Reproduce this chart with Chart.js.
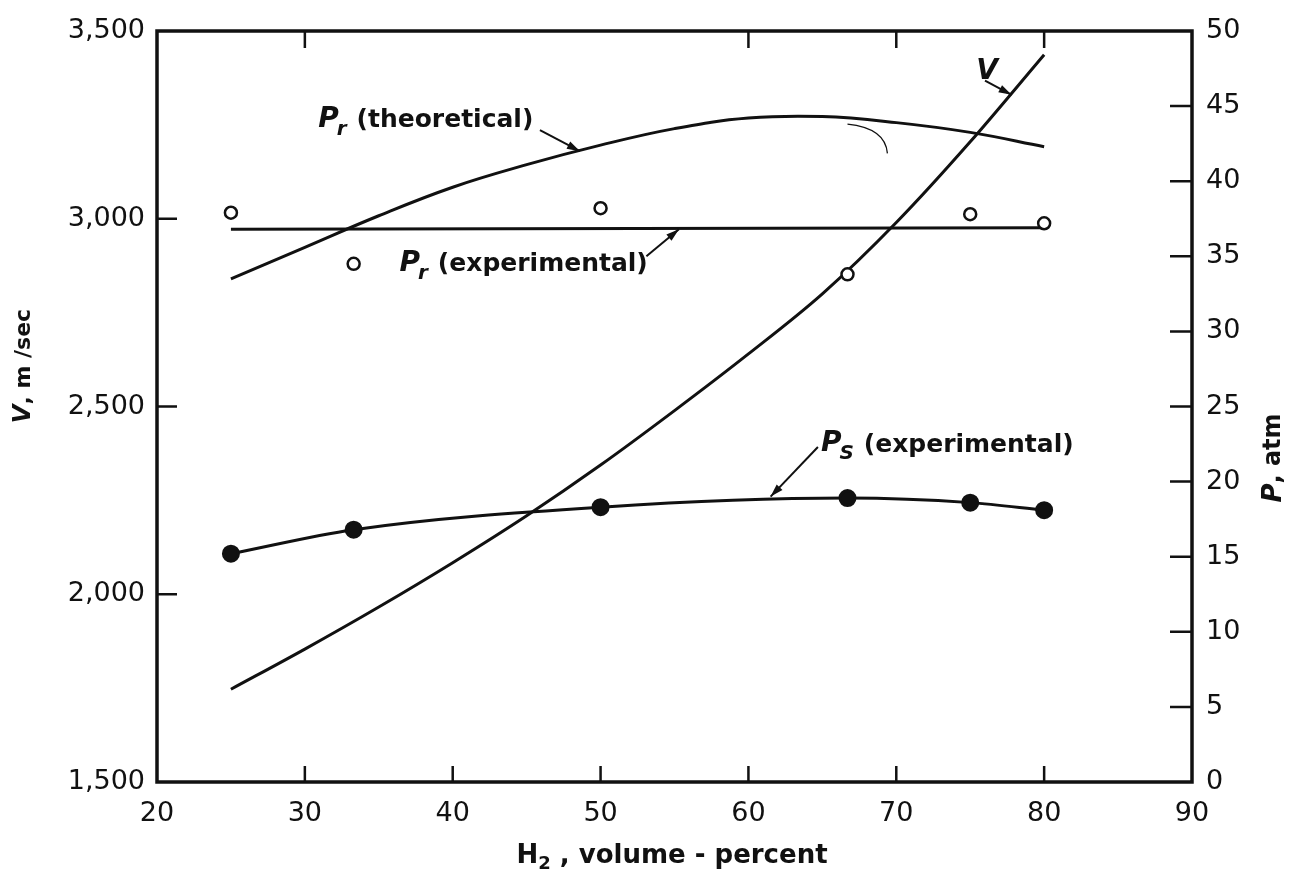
<!DOCTYPE html>
<html>
<head>
<meta charset="utf-8">
<script src="https://cdn.jsdelivr.net/npm/chart.js@4.4.1/dist/chart.umd.min.js"></script>
<style>
  html, body { margin: 0; padding: 0; background: #fff; }
  #wrap { width: 1299px; height: 875px; }
</style>
</head>
<body>
<div id="wrap"><canvas id="chart" width="1299" height="875"></canvas></div>
<script>
  // H2 volume-percent for the smooth curves
  const h2Curve = [25, 30, 35, 40, 45, 50, 55, 60, 65, 70, 75, 80];
  // V, m/sec (left axis)
  const velocity = [1747, 1854, 1966, 2084, 2209, 2344, 2489, 2640, 2800, 2990, 3205, 3437];
  // Pr theoretical, atm (right axis)
  const prTheory = [33.5, 35.6, 37.7, 39.6, 41.1, 42.4, 43.5, 44.2, 44.3, 43.9, 43.25, 42.3];

  // experimental points
  const h2Exp = [25, 33.3, 50, 66.7, 75, 80];
  const prExp = [37.9, 34.5, 38.2, 33.8, 37.8, 37.2];
  const psExp = [15.2, 16.8, 18.3, 18.9, 18.6, 18.1];

  // straight line drawn through the Pr experimental points
  const prFitX = [25, 80];
  const prFit = [36.8, 36.9];

  // tick marks on the frame
  const leftTicks = [2000, 2500, 3000];
  const rightTicks = [5, 10, 15, 20, 25, 30, 35, 40, 45];
  const bottomTicks = [30, 40, 50, 60, 70, 80];
  const topTicks = [30, 60, 70, 80];

  const INK = '#111';
  const tickFont = { family: 'DejaVu Sans', size: 27 };

  const pts = (xs, ys) => xs.map((x, i) => ({ x: x, y: ys[i] }));

  // labels with arrows, in data units (axis: 'y' = V, 'y2' = P)
  const notes = [
    { axis: 'y2', at: [30.9, 44.1], sub: 'r', text: '(theoretical)', from: [45.9, 43.4], to: [48.6, 42.0] },
    { axis: 'y2', at: [36.4, 34.5], sub: 'r', text: '(experimental)', from: [53.1, 35.0], to: [55.3, 36.8] },
    { axis: 'y2', at: [64.9, 22.5], sub: 'S', text: '(experimental)', from: [64.7, 22.3], to: [61.5, 19.0] },
    { axis: 'y', at: [75.4, 3392], sub: '', text: '', from: [76.0, 3368], to: [77.8, 3330] }
  ];

  function arrow(ctx, x1, y1, x2, y2) {
    ctx.beginPath();
    ctx.moveTo(x1, y1);
    ctx.lineTo(x2, y2);
    ctx.lineWidth = 2;
    ctx.stroke();
    const a = Math.atan2(y2 - y1, x2 - x1);
    ctx.beginPath();
    ctx.moveTo(x2, y2);
    ctx.lineTo(x2 - 13 * Math.cos(a) + 4 * Math.sin(a), y2 - 13 * Math.sin(a) - 4 * Math.cos(a));
    ctx.lineTo(x2 - 13 * Math.cos(a) - 4 * Math.sin(a), y2 - 13 * Math.sin(a) + 4 * Math.cos(a));
    ctx.closePath();
    ctx.fill();
  }

  const paper = {
    id: 'paper',
    afterDatasetsDraw(chart) {
      const { ctx, chartArea: a, scales } = chart;
      const sx = scales.x, sy = scales.y, sp = scales.y2;
      ctx.save();
      ctx.strokeStyle = INK;
      ctx.fillStyle = INK;

      // frame
      ctx.lineWidth = 3.5;
      ctx.strokeRect(a.left, a.top, a.right - a.left, a.bottom - a.top);

      // inward ticks
      ctx.lineWidth = 2.5;
      ctx.beginPath();
      leftTicks.forEach(v => { const y = sy.getPixelForValue(v); ctx.moveTo(a.left, y); ctx.lineTo(a.left + 20, y); });
      rightTicks.forEach(v => { const y = sp.getPixelForValue(v); ctx.moveTo(a.right, y); ctx.lineTo(a.right - 22, y); });
      bottomTicks.forEach(v => { const x = sx.getPixelForValue(v); ctx.moveTo(x, a.bottom); ctx.lineTo(x, a.bottom - 16); });
      topTicks.forEach(v => { const x = sx.getPixelForValue(v); ctx.moveTo(x, a.top); ctx.lineTo(x, a.top + 17); });
      ctx.stroke();

      // small stray pen stroke near the Pr theoretical peak
      ctx.lineWidth = 1.3;
      ctx.beginPath();
      const s0x = sx.getPixelForValue(66.7), s0y = sp.getPixelForValue(43.8);
      const s1x = sx.getPixelForValue(69.4), s1y = sp.getPixelForValue(41.85);
      ctx.moveTo(s0x, s0y);
      ctx.quadraticCurveTo(s1x - 2, s0y + 4, s1x, s1y);
      ctx.stroke();

      // curve labels
      ctx.textBaseline = 'middle';
      ctx.textAlign = 'left';
      notes.forEach(n => {
        const sc = n.axis === 'y' ? sy : sp;
        let x = sx.getPixelForValue(n.at[0]);
        const y = sc.getPixelForValue(n.at[1]);
        ctx.font = 'italic bold 28px "DejaVu Sans"';
        const head = n.axis === 'y' ? 'V' : 'P';
        ctx.fillText(head, x, y);
        x += ctx.measureText(head).width;
        if (n.sub) {
          ctx.font = 'italic bold 20px "DejaVu Sans"';
          ctx.fillText(n.sub, x - 2, y + 10);
          x += ctx.measureText(n.sub).width + 8;
        }
        if (n.text) {
          ctx.font = 'bold 25px "DejaVu Sans"';
          ctx.fillText(n.text, x, y + 1);
        }
        arrow(ctx, sx.getPixelForValue(n.from[0]), sc.getPixelForValue(n.from[1]),
          sx.getPixelForValue(n.to[0]), sc.getPixelForValue(n.to[1]));
      });

      // axis titles
      ctx.save();
      ctx.translate(24, 366);
      ctx.rotate(-Math.PI / 2);
      ctx.textAlign = 'left';
      ctx.font = 'italic bold 24px "DejaVu Sans"';
      const vw = ctx.measureText('V').width;
      ctx.font = 'bold 22px "DejaVu Sans"';
      const restL = ', m /sec';
      const lw = ctx.measureText(restL).width + vw;
      ctx.font = 'italic bold 24px "DejaVu Sans"';
      ctx.fillText('V', -lw / 2, 0);
      ctx.font = 'bold 22px "DejaVu Sans"';
      ctx.fillText(restL, -lw / 2 + vw, 0);
      ctx.restore();

      ctx.save();
      ctx.translate(1274, 458);
      ctx.rotate(-Math.PI / 2);
      ctx.textAlign = 'left';
      ctx.font = 'italic bold 26px "DejaVu Sans"';
      const pw = ctx.measureText('P').width;
      ctx.font = 'bold 24px "DejaVu Sans"';
      const restR = ', atm';
      const rw = ctx.measureText(restR).width + pw;
      ctx.font = 'italic bold 26px "DejaVu Sans"';
      ctx.fillText('P', -rw / 2, 0);
      ctx.font = 'bold 24px "DejaVu Sans"';
      ctx.fillText(restR, -rw / 2 + pw, 0);
      ctx.restore();

      // x title with subscript
      ctx.textAlign = 'left';
      ctx.font = 'bold 26px "DejaVu Sans"';
      const hW = ctx.measureText('H').width;
      ctx.font = 'bold 18px "DejaVu Sans"';
      const twoW = ctx.measureText('2').width;
      ctx.font = 'bold 26px "DejaVu Sans"';
      const tail = ' , volume - percent';
      const total = hW + twoW + ctx.measureText(tail).width;
      let tx = 672 - total / 2;
      const ty = 856;
      ctx.fillText('H', tx, ty);
      tx += hW;
      ctx.font = 'bold 18px "DejaVu Sans"';
      ctx.fillText('2', tx, ty + 8);
      tx += twoW;
      ctx.font = 'bold 26px "DejaVu Sans"';
      ctx.fillText(tail, tx, ty);

      ctx.restore();
    }
  };

  const ctx = document.getElementById('chart').getContext('2d');
  new Chart(ctx, {
    type: 'line',
    data: {
      datasets: [
        {
          label: 'Pr (experimental) points',
          data: pts(h2Exp, prExp),
          yAxisID: 'y2',
          showLine: false,
          pointRadius: 6,
          pointBorderWidth: 2.5,
          pointBackgroundColor: '#fff',
          pointBorderColor: INK,
          order: 0
        },
        {
          label: 'Ps (experimental)',
          data: pts(h2Exp, psExp),
          yAxisID: 'y2',
          borderColor: INK,
          borderWidth: 3,
          cubicInterpolationMode: 'monotone',
          pointRadius: 7.5,
          pointBackgroundColor: INK,
          pointBorderColor: INK,
          order: 0
        },
        {
          label: 'V',
          data: pts(h2Curve, velocity),
          yAxisID: 'y',
          borderColor: INK,
          borderWidth: 3,
          cubicInterpolationMode: 'monotone',
          pointRadius: 0,
          order: 1
        },
        {
          label: 'Pr (theoretical)',
          data: pts(h2Curve, prTheory),
          yAxisID: 'y2',
          borderColor: INK,
          borderWidth: 3,
          tension: 0.4,
          pointRadius: 0,
          order: 1
        },
        {
          label: 'Pr (experimental)',
          data: pts(prFitX, prFit),
          yAxisID: 'y2',
          borderColor: INK,
          borderWidth: 3,
          pointRadius: 0,
          order: 1
        }
      ]
    },
    options: {
      responsive: false,
      animation: false,
      layout: { padding: { top: 31, left: 0, right: 0, bottom: 0 } },
      plugins: { legend: { display: false }, tooltip: { enabled: false } },
      scales: {
        x: {
          type: 'linear',
          min: 20,
          max: 90,
          ticks: { stepSize: 10, padding: 16, color: INK, font: tickFont, maxRotation: 0 },
          grid: { display: false, drawTicks: false },
          border: { display: false },
          afterFit: s => { s.height = 93; }
        },
        y: {
          position: 'left',
          min: 1500,
          max: 3500,
          ticks: { stepSize: 500, padding: 12, color: INK, font: tickFont, callback: v => v.toLocaleString('en-US') },
          grid: { display: false, drawTicks: false },
          border: { display: false },
          afterFit: s => { s.width = 157; }
        },
        y2: {
          position: 'right',
          min: 0,
          max: 50,
          ticks: { stepSize: 5, padding: 14, color: INK, font: tickFont },
          grid: { display: false, drawTicks: false },
          border: { display: false },
          afterFit: s => { s.width = 107; }
        }
      }
    },
    plugins: [paper]
  });
</script>
</body>
</html>
